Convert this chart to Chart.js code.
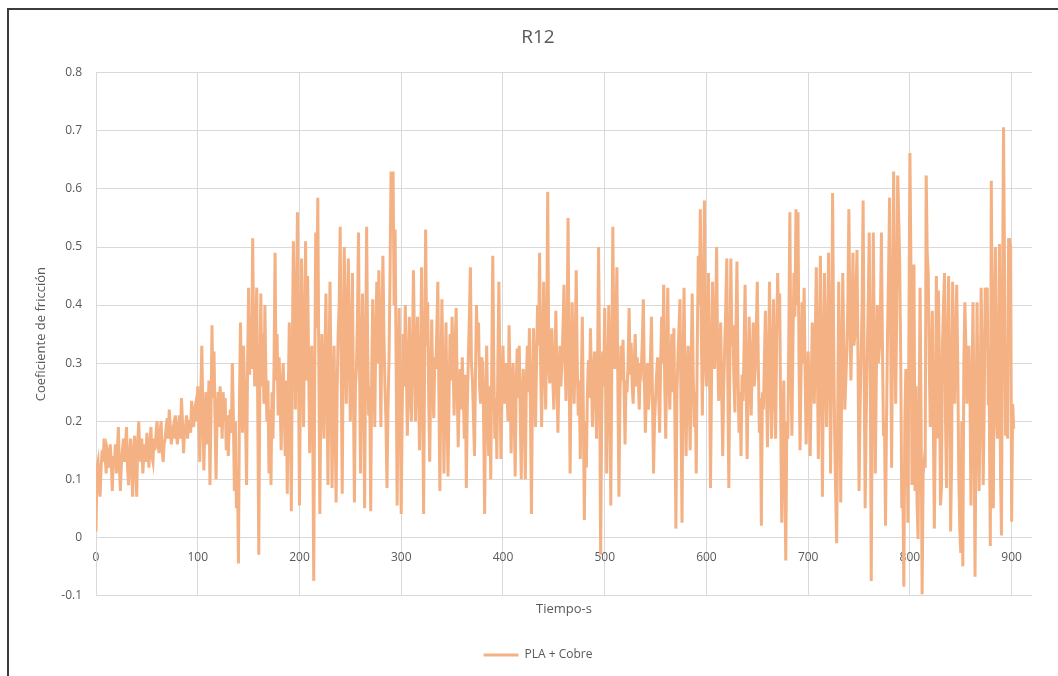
<!DOCTYPE html>
<html lang="es">
<head>
<meta charset="utf-8">
<title>R12</title>
<script src="https://cdn.jsdelivr.net/npm/chart.js@4.4.1/dist/chart.umd.min.js"></script>
<style>
  html, body { margin: 0; padding: 0; background: #fff; overflow: hidden; }
  #marco { position: absolute; left: 0; top: 0; width: 1058px; height: 676px; }
  #marco::before {
    content: '';
    position: absolute;
    left: 7px; top: 8px; right: 0; bottom: 0;
    border-left: 2px solid #3c3c3c;
    border-top: 2px solid #3c3c3c;
  }
  canvas { position: absolute; left: 0; top: 0; }
</style>
</head>
<body>
<div id="marco">
  <canvas id="grafico" width="1058" height="676"></canvas>
</div>
<script>
// coeficiente de friccion, una muestra por segundo
const pasoTiempo = 1;

const friccion0a100 = [
  0.01, 0.12, 0.13, 0.09, 0.07, 0.12, 0.15, 0.13, 0.17, 0.14,
  0.11, 0.15, 0.14, 0.12, 0.16, 0.13, 0.08, 0.14, 0.12, 0.16,
  0.11, 0.15, 0.19, 0.12, 0.08, 0.13, 0.15, 0.17, 0.13, 0.16,
  0.19, 0.12, 0.09, 0.14, 0.17, 0.12, 0.07, 0.15, 0.175, 0.12,
  0.07, 0.16, 0.2, 0.15, 0.13, 0.17, 0.11, 0.14, 0.16, 0.13,
  0.18, 0.15, 0.12, 0.16, 0.19, 0.14, 0.13, 0.17, 0.15, 0.18,
  0.2, 0.16, 0.145, 0.18, 0.2, 0.15, 0.13, 0.16, 0.17, 0.19,
  0.205, 0.17, 0.22, 0.19, 0.16, 0.18, 0.19, 0.17, 0.21, 0.18,
  0.16, 0.19, 0.21, 0.17, 0.24, 0.2, 0.145, 0.18, 0.19, 0.21,
  0.17, 0.2, 0.2, 0.18, 0.235, 0.21, 0.19, 0.22, 0.23, 0.2
];
const friccion100a200 = [
  0.26, 0.2, 0.13, 0.24, 0.33, 0.22, 0.115, 0.19, 0.25, 0.16,
  0.2, 0.27, 0.09, 0.21, 0.365, 0.24, 0.32, 0.2, 0.1, 0.21,
  0.25, 0.19, 0.26, 0.22, 0.17, 0.25, 0.2, 0.24, 0.15, 0.21,
  0.14, 0.19, 0.22, 0.18, 0.3, 0.21, 0.08, 0.2, 0.05, 0.12,
  -0.045, 0.23, 0.37, 0.25, 0.18, 0.33, 0.26, 0.2, 0.09, 0.3,
  0.43, 0.28, 0.38, 0.29, 0.515, 0.33, 0.26, 0.35, 0.43, 0.22,
  -0.03, 0.25, 0.42, 0.26, 0.35, 0.23, 0.4, 0.28, 0.2, 0.27,
  0.11, 0.22, 0.09, 0.25, 0.17, 0.3, 0.49, 0.27, 0.35, 0.21,
  0.31, 0.24, 0.15, 0.26, 0.3, 0.22, 0.14, 0.27, 0.075, 0.25,
  0.37, 0.2, 0.045, 0.33, 0.51, 0.36, 0.22, 0.4, 0.56, 0.3
];
const friccion200a300 = [
  0.055, 0.3, 0.48, 0.31, 0.19, 0.36, 0.51, 0.27, 0.45, 0.3,
  0.145, 0.27, 0.33, 0.2, -0.075, 0.28, 0.525, 0.36, 0.585, 0.3,
  0.04, 0.24, 0.35, 0.26, 0.17, 0.31, 0.42, 0.25, 0.09, 0.28,
  0.44, 0.27, 0.085, 0.23, 0.33, 0.2, 0.06, 0.25, 0.35, 0.4,
  0.535, 0.3, 0.075, 0.32, 0.5, 0.35, 0.23, 0.38, 0.48, 0.3,
  0.2, 0.34, 0.455, 0.25, 0.06, 0.26, 0.29, 0.38, 0.525, 0.3,
  0.11, 0.3, 0.42, 0.28, 0.05, 0.3, 0.535, 0.33, 0.21, 0.26,
  0.045, 0.28, 0.41, 0.3, 0.19, 0.35, 0.44, 0.3, 0.46, 0.34,
  0.19, 0.36, 0.485, 0.35, 0.26, 0.2, 0.085, 0.22, 0.305, 0.45,
  0.63, 0.6, 0.63, 0.4, 0.53, 0.3, 0.055, 0.27, 0.395, 0.22
];
const friccion300a400 = [
  0.04, 0.22, 0.35, 0.26, 0.4, 0.3, 0.175, 0.27, 0.38, 0.25,
  0.2, 0.31, 0.46, 0.34, 0.2, 0.29, 0.38, 0.26, 0.15, 0.3,
  0.465, 0.25, 0.04, 0.3, 0.53, 0.33, 0.405, 0.24, 0.13, 0.27,
  0.375, 0.26, 0.205, 0.31, 0.29, 0.36, 0.44, 0.25, 0.08, 0.26,
  0.41, 0.28, 0.11, 0.25, 0.37, 0.22, 0.105, 0.24, 0.35, 0.27,
  0.38, 0.3, 0.21, 0.33, 0.395, 0.26, 0.155, 0.24, 0.29, 0.22,
  0.31, 0.25, 0.17, 0.28, 0.085, 0.23, 0.31, 0.38, 0.465, 0.3,
  0.27, 0.21, 0.14, 0.28, 0.4, 0.32, 0.37, 0.26, 0.23, 0.31,
  0.3, 0.2, 0.04, 0.24, 0.33, 0.22, 0.14, 0.26, 0.1, 0.3,
  0.485, 0.3, 0.17, 0.24, 0.135, 0.3, 0.44, 0.27, 0.135, 0.24
];
const friccion400a500 = [
  0.33, 0.26, 0.23, 0.3, 0.25, 0.2, 0.365, 0.27, 0.145, 0.24,
  0.3, 0.22, 0.105, 0.26, 0.325, 0.24, 0.33, 0.21, 0.1, 0.25,
  0.29, 0.2, 0.1, 0.27, 0.33, 0.25, 0.36, 0.22, 0.04, 0.25,
  0.36, 0.28, 0.19, 0.3, 0.4, 0.33, 0.49, 0.3, 0.19, 0.32,
  0.44, 0.3, 0.22, 0.35, 0.595, 0.3, 0.265, 0.33, 0.36, 0.27,
  0.22, 0.3, 0.39, 0.28, 0.18, 0.27, 0.33, 0.26, 0.305, 0.36,
  0.435, 0.3, 0.235, 0.34, 0.55, 0.3, 0.11, 0.28, 0.405, 0.3,
  0.23, 0.33, 0.46, 0.3, 0.21, 0.27, 0.135, 0.26, 0.38, 0.22,
  0.03, 0.2, 0.12, 0.25, 0.305, 0.24, 0.36, 0.27, 0.19, 0.28,
  0.32, 0.25, 0.17, 0.3, 0.5, 0.29, -0.03, 0.2, 0.32, 0.26
];
const friccion500a600 = [
  0.395, 0.27, 0.11, 0.25, 0.4, 0.28, 0.055, 0.3, 0.535, 0.33,
  0.29, 0.36, 0.465, 0.25, 0.07, 0.24, 0.33, 0.27, 0.34, 0.26,
  0.16, 0.27, 0.25, 0.3, 0.395, 0.28, 0.335, 0.26, 0.23, 0.3,
  0.35, 0.26, 0.31, 0.27, 0.22, 0.3, 0.29, 0.34, 0.41, 0.27,
  0.18, 0.26, 0.3, 0.22, 0.25, 0.31, 0.38, 0.24, 0.11, 0.2,
  0.24, 0.28, 0.31, 0.25, 0.18, 0.3, 0.38, 0.3, 0.435, 0.26,
  0.17, 0.3, 0.43, 0.28, 0.22, 0.3, 0.35, 0.25, 0.36, 0.2,
  0.015, 0.25, 0.31, 0.36, 0.41, 0.22, 0.025, 0.3, 0.43, 0.26,
  0.14, 0.27, 0.33, 0.24, 0.15, 0.3, 0.42, 0.28, 0.19, 0.25,
  0.11, 0.33, 0.485, 0.4, 0.565, 0.35, 0.21, 0.4, 0.58, 0.3
];
const friccion600a700 = [
  0.26, 0.35, 0.455, 0.3, 0.085, 0.27, 0.44, 0.33, 0.29, 0.38,
  0.5, 0.32, 0.235, 0.3, 0.37, 0.25, 0.14, 0.26, 0.33, 0.4,
  0.48, 0.27, 0.085, 0.3, 0.48, 0.33, 0.365, 0.27, 0.215, 0.36,
  0.475, 0.29, 0.18, 0.25, 0.14, 0.28, 0.235, 0.33, 0.435, 0.27,
  0.135, 0.26, 0.38, 0.29, 0.21, 0.3, 0.37, 0.26, 0.29, 0.36,
  0.44, 0.3, 0.18, 0.24, 0.02, 0.25, 0.22, 0.31, 0.39, 0.26,
  0.155, 0.3, 0.44, 0.28, 0.17, 0.3, 0.41, 0.26, 0.17, 0.33,
  0.455, 0.36, 0.42, 0.2, 0.025, 0.18, 0.27, 0.1, -0.04, 0.2,
  0.17, 0.35, 0.56, 0.3, 0.175, 0.33, 0.455, 0.38, 0.565, 0.4,
  0.56, 0.3, 0.15, 0.28, 0.405, 0.3, 0.43, 0.28, 0.16, 0.25
];
const friccion700a800 = [
  0.32, 0.24, 0.14, 0.26, 0.37, 0.3, 0.23, 0.35, 0.465, 0.3,
  0.135, 0.32, 0.485, 0.3, 0.07, 0.28, 0.455, 0.33, 0.19, 0.3,
  0.49, 0.33, 0.11, 0.3, 0.593, 0.35, 0.18, 0.08, -0.01, 0.2,
  0.44, 0.3, 0.06, 0.28, 0.455, 0.33, 0.22, 0.27, 0.32, 0.4,
  0.565, 0.38, 0.27, 0.36, 0.49, 0.33, 0.35, 0.42, 0.495, 0.3,
  0.08, 0.22, 0.31, 0.4, 0.58, 0.3, 0.05, 0.2, 0.305, 0.4,
  0.525, 0.3, -0.075, 0.25, 0.525, 0.33, 0.11, 0.28, 0.4, 0.3,
  0.325, 0.38, 0.525, 0.33, 0.175, 0.2, 0.02, 0.2, 0.35, 0.45,
  0.585, 0.36, 0.12, 0.35, 0.63, 0.4, 0.23, 0.38, 0.623, 0.55,
  0.47, 0.3, 0.05, 0.1, -0.085, 0.2, 0.29, 0.22, 0.025, 0.35
];
const friccion800a902 = [
  0.662, 0.47, 0.09, 0.3, 0.47, 0.08, 0.26, 0.06, -0.003, 0.2,
  0.43, 0.2, -0.098, 0.11, 0.13, 0.12, 0.623, 0.49, 0.455, 0.3,
  0.19, 0.28, 0.39, 0.2, 0.015, 0.19, 0.45, 0.17, 0.425, 0.3,
  0.055, 0.085, 0.33, 0.4, 0.455, 0.2, 0.085, 0.335, 0.45, 0.3,
  0.01, 0.135, 0.44, 0.3, 0.23, 0.34, 0.435, 0.3, 0.11, 0.015,
  -0.027, 0.2, -0.05, 0.3, 0.405, 0.33, 0.23, 0.3, 0.33, 0.25,
  0.055, 0.25, 0.405, 0.2, -0.068, 0.19, 0.405, 0.22, 0.08, 0.22,
  0.43, 0.3, 0.09, 0.22, 0.43, 0.33, 0.43, 0.23, 0.23, -0.015,
  0.614, 0.3, 0.05, 0.38, 0.5, 0.21, 0.17, 0.3, 0.505, 0.115,
  0.003, 0.4, 0.706, 0.465, 0.175, 0.3, 0.17, 0.513, 0.513, 0.5,
  0.027, 0.23, 0.187
];

const friccion = [].concat(
  friccion0a100, friccion100a200, friccion200a300, friccion300a400,
  friccion400a500, friccion500a600, friccion600a700, friccion700a800,
  friccion800a902
);
const tiempo = friccion.map((_, i) => i * pasoTiempo);

const gris = '#595959';
const rejilla = '#d9d9d9';
Chart.defaults.font.family = "'Open Sans', 'Noto Sans', sans-serif";
Chart.defaults.color = gris;

const ctx = document.getElementById('grafico').getContext('2d');

new Chart(ctx, {
  type: 'line',
  data: {
    datasets: [{
      label: 'PLA + Cobre',
      data: tiempo.map((t, i) => ({ x: t, y: friccion[i] })),
      borderColor: '#F4B183',
      backgroundColor: '#F4B183',
      borderWidth: 3,
      pointRadius: 0,
      tension: 0,
      fill: false
    }]
  },
  options: {
    responsive: false,
    animation: false,
    events: [],
    layout: { padding: { left: 44, right: 26, top: 0, bottom: 5 } },
    scales: {
      x: {
        type: 'linear',
        position: { y: 0 },
        min: 0,
        max: 920,
        afterBuildTicks: (scale) => {
          scale.ticks = scale.ticks.filter(t => t.value % 100 === 0);
        },
        ticks: {
          stepSize: 100,
          includeBounds: false,
          padding: 13,
          color: gris,
          font: { size: 12 }
        },
        grid: { color: rejilla, drawTicks: false },
        border: { display: false }
      },
      y: {
        min: -0.1,
        max: 0.8,
        afterFit: (scale) => { scale.width = 52; },
        ticks: {
          stepSize: 0.1,
          padding: 14,
          color: gris,
          font: { size: 12 },
          callback: (v) => String(Math.round(v * 10) / 10)
        },
        grid: { color: rejilla, drawTicks: false },
        border: { color: rejilla },
        title: {
          display: true,
          text: 'Coeficiente de fricción',
          color: gris,
          font: { size: 13 },
          padding: { top: -11, bottom: 0 }
        }
      }
    },
    plugins: {
      title: {
        display: true,
        text: 'R12',
        color: gris,
        font: { size: 19, weight: 'normal' },
        padding: { top: 26, bottom: 24 }
      },
      subtitle: {
        display: true,
        text: 'Tiempo-s',
        position: 'bottom',
        fullSize: false,
        weight: 500,
        color: gris,
        font: { size: 13 },
        padding: { top: 6, bottom: 22 }
      },
      legend: {
        position: 'bottom',
        labels: {
          usePointStyle: true,
          pointStyle: 'line',
          pointStyleWidth: 35,
          boxWidth: 35,
          color: gris,
          font: { size: 12 }
        }
      },
      tooltip: { enabled: false }
    }
  }
});
</script>
</body>
</html>
